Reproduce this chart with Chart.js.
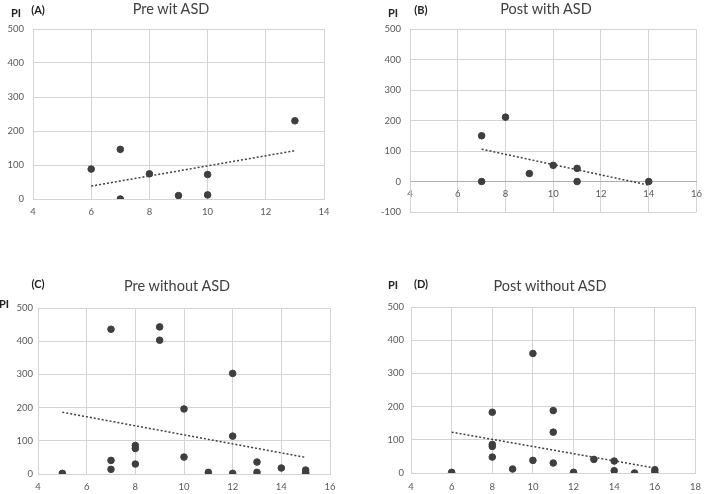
<!DOCTYPE html>
<html>
<head>
<meta charset="utf-8">
<script src="https://cdn.jsdelivr.net/npm/chart.js@4"></script>
<style>
  body { margin: 0; background: #fff; width: 709px; height: 494px; position: relative; overflow: hidden; font-family: Lato, "Open Sans", sans-serif; }
  canvas { position: absolute; }
  .lbl { position: absolute; transform: translate(-50%, -50%); white-space: nowrap; color: #222; }
  .b { font-weight: bold; font-size: 11px; }
  .t { font-size: 14.5px; color: #404040; }
</style>
</head>
<body>
<canvas id="cA" width="354" height="247" style="left:0;top:0"></canvas>
<canvas id="cB" width="355" height="247" style="left:354px;top:0"></canvas>
<canvas id="cC" width="354" height="247" style="left:0;top:247px"></canvas>
<canvas id="cD" width="355" height="247" style="left:354px;top:247px"></canvas>

<span class="lbl b" style="left:16px;top:12px">PI</span>
<span class="lbl b" style="left:38px;top:9px">(A)</span>
<span class="lbl t" style="left:171px;top:8px">Pre wit ASD</span>

<span class="lbl b" style="left:393px;top:12px">PI</span>
<span class="lbl b" style="left:421px;top:9px">(B)</span>
<span class="lbl t" style="left:546px;top:8px">Post with ASD</span>

<span class="lbl b" style="left:38px;top:283px">(C)</span>
<span class="lbl b" style="left:4px;top:303px">PI</span>
<span class="lbl t" style="left:177px;top:285px">Pre without ASD</span>

<span class="lbl b" style="left:393px;top:284px">PI</span>
<span class="lbl b" style="left:421px;top:283px">(D)</span>
<span class="lbl t" style="left:550px;top:285px">Post without ASD</span>

<script>
// (A) Pre wit ASD
var ageA = [6, 7, 7, 8, 9, 10, 10, 13];
var piA = [88, 146, 0, 74, 10, 72, 12, 230];
var trendXA = [6, 13];
var trendYA = [38, 142];

// (B) Post with ASD
var ageB = [7, 7, 8, 9, 10, 11, 11, 14];
var piB = [150, 0, 211, 26, 53, 43, 0, 0];
var trendXB = [7, 14];
var trendYB = [106, -12];

// (C) Pre without ASD
var ageC = [5, 7, 7, 7, 8, 8, 8, 9, 9, 10, 10, 11, 12, 12, 12, 13, 13, 14, 15, 15, 15];
var piC = [2, 436, 41, 14, 86, 77, 30, 443, 403, 196, 51, 5, 303, 114, 2, 36, 5, 18, 12, 5, 1];
var trendXC = [5, 15];
var trendYC = [186, 50];

// (D) Post without ASD
var ageD = [6, 8, 8, 8, 8, 9, 10, 10, 11, 11, 11, 12, 13, 14, 14, 15, 16, 16];
var piD = [2, 183, 86, 80, 48, 12, 360, 38, 188, 123, 30, 2, 41, 36, 7, 0, 10, 2];
var trendXD = [6, 16];
var trendYD = [123, 15];

var gridColor = '#d4d4d4';
var tickColor = '#595959';
var dotColor = '#3f3f3f';

function pairs(xs, ys) {
    return xs.map(function(x, i) { return { x: x, y: ys[i] }; });
}

function makeChart(id, xs, ys, tx, ty, opt) {
    var xAxis = {
        type: 'linear',
        min: opt.xMin, max: opt.xMax,
        ticks: { stepSize: 2, color: tickColor, font: { family: 'Lato', size: 9.5 }, padding: opt.xPad, maxRotation: 0 },
        grid: { color: gridColor, lineWidth: 1, drawTicks: false },
        border: { color: opt.zeroAxis ? '#b0b0b0' : gridColor, width: 1 },
        afterFit: function(s) { if (!opt.zeroAxis) s.height = opt.xHeight; }
    };
    if (opt.zeroAxis) xAxis.position = { y: 0 };
    new Chart(document.getElementById(id), {
        type: 'scatter',
        data: {
            datasets: [{
                data: pairs(xs, ys),
                backgroundColor: dotColor,
                borderColor: dotColor,
                pointRadius: 3.3,
                pointHoverRadius: 3.3
            }, {
                type: 'line',
                data: pairs(tx, ty),
                borderColor: '#404040',
                borderWidth: 1.5,
                borderDash: [2, 2],
                pointRadius: 0,
                fill: false
            }]
        },
        options: {
            responsive: false,
            animation: false,
            layout: { padding: opt.padding },
            plugins: { legend: { display: false }, tooltip: { enabled: false } },
            scales: {
                x: xAxis,
                y: {
                    min: opt.yMin, max: 500,
                    ticks: { stepSize: 100, color: tickColor, font: { family: 'Lato', size: 9.5 }, padding: opt.yPad },
                    grid: { color: gridColor, lineWidth: 1, drawTicks: false },
                    border: { color: gridColor },
                    afterFit: function(s) { s.width = opt.yWidth; }
                }
            }
        }
    });
}

makeChart('cA', ageA, piA, trendXA, trendYA,
    { xMin: 4, xMax: 14, yMin: 0, xPad: 7, yPad: 9, yWidth: 33, xHeight: 48,
      padding: { top: 29, right: 30, left: 0, bottom: 0 } });
makeChart('cB', ageB, piB, trendXB, trendYB,
    { xMin: 4, xMax: 16, yMin: -100, xPad: 7, yPad: 9, yWidth: 56, zeroAxis: true,
      padding: { top: 29, right: 10, left: 0, bottom: 35 } });
makeChart('cC', ageC, piC, trendXC, trendYC,
    { xMin: 4, xMax: 16, yMin: 0, xPad: 7, yPad: 5, yWidth: 38, xHeight: 17,
      padding: { top: 61, right: 24, left: 0, bottom: 3 } });
makeChart('cD', ageD, piD, trendXD, trendYD,
    { xMin: 4, xMax: 18, yMin: 0, xPad: 8, yPad: 7, yWidth: 57, xHeight: 18,
      padding: { top: 60, right: 6, left: 0, bottom: 3 } });
</script>
</body>
</html>
